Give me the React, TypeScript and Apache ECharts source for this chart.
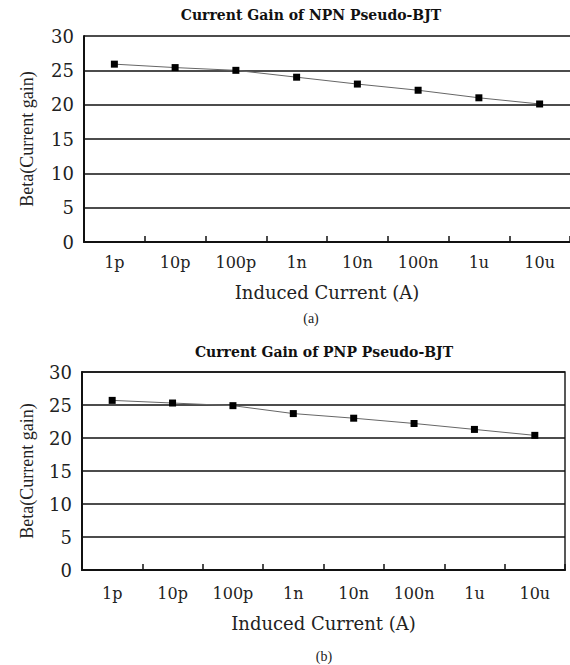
import React, { useEffect, useRef } from "react";
import * as echarts from "echarts";

const categories = ["1p", "10p", "100p", "1n", "10n", "100n", "1u", "10u"];
const npnBeta = [25.9, 25.4, 25.0, 24.0, 23.0, 22.1, 21.0, 20.1];
const pnpBeta = [25.7, 25.3, 24.9, 23.7, 23.0, 22.2, 21.3, 20.4];
const yTicks = { min: 0, max: 30, interval: 5 };
const titles = ["Current Gain of NPN Pseudo-BJT", "Current Gain of PNP Pseudo-BJT"];
const captions = ["(a)", "(b)"];
const xName = "Induced Current (A)";
const yName = "Beta(Current gain)";

const SERIF = "'DejaVu Serif', serif";
const TIMES = "'Liberation Serif', serif";

export default function App() {
  const ref = useRef<HTMLDivElement>(null);
  useEffect(() => {
    if (!ref.current) return;
    const chart = echarts.init(ref.current, null, { renderer: "svg" });
    const grids = [
      { left: 84, top: 36, width: 488, height: 206 },
      { left: 82, top: 372, width: 483, height: 198 },
    ];
    const xCfg = [
      { labelMargin: 12, nameGap: 50 },
      { labelMargin: 15, nameGap: 53 },
    ];
    const yCfg = [{ nameGap: 57 }, { nameGap: 55 }];
    const option: any = {
      animation: false,
      backgroundColor: "#fff",
      grid: grids.map((g, i) => ({
        ...g,
        show: i === 1,
        borderColor: "#222",
        borderWidth: 1.5,
        backgroundColor: "transparent",
      })),
      xAxis: grids.map((_, i) => ({
        type: "category",
        gridIndex: i,
        data: categories,
        boundaryGap: true,
        name: xName,
        nameLocation: "middle",
        nameGap: xCfg[i].nameGap,
        nameTextStyle: { fontFamily: SERIF, fontSize: 18, color: "#222", verticalAlign: "middle" },
        axisLine: { show: true, lineStyle: { color: "#111", width: 2 } },
        axisTick: { show: true, inside: true, length: 6, lineStyle: { color: "#111", width: 1.5 } },
        axisLabel: { fontFamily: SERIF, fontSize: 16, color: "#222", margin: xCfg[i].labelMargin },
        splitLine: { show: false },
      })),
      yAxis: grids.map((_, i) => ({
        type: "value",
        gridIndex: i,
        min: yTicks.min,
        max: yTicks.max,
        interval: yTicks.interval,
        name: yName,
        nameLocation: "middle",
        nameRotate: 90,
        nameGap: yCfg[i].nameGap,
        nameTextStyle: { fontFamily: TIMES, fontSize: 18, color: "#222", verticalAlign: "middle" },
        axisLine: { show: true, lineStyle: { color: "#111", width: 2 } },
        axisTick: { show: false },
        axisLabel: { fontFamily: SERIF, fontSize: 18, color: "#222", margin: 10 },
        splitLine: { show: true, lineStyle: { color: "#111", width: 1.5 } },
      })),
      series: [npnBeta, pnpBeta].map((d, i) => ({
        type: "line",
        xAxisIndex: i,
        yAxisIndex: i,
        data: d,
        symbol: "rect",
        symbolSize: 7,
        itemStyle: { color: "#000" },
        lineStyle: { color: "#666", width: 1 },
      })),
      graphic: [
        {
          type: "text",
          x: 311,
          y: 15,
          style: {
            text: titles[0],
            fontFamily: SERIF,
            fontWeight: "bold",
            fontSize: 14,
            fill: "#111",
            textAlign: "center",
            textVerticalAlign: "middle",
          },
        },
        {
          type: "text",
          x: 324,
          y: 352,
          style: {
            text: titles[1],
            fontFamily: SERIF,
            fontWeight: "bold",
            fontSize: 14,
            fill: "#111",
            textAlign: "center",
            textVerticalAlign: "middle",
          },
        },
        {
          type: "text",
          x: 311,
          y: 318,
          style: {
            text: captions[0],
            fontFamily: TIMES,
            fontSize: 14,
            fill: "#222",
            textAlign: "center",
            textVerticalAlign: "middle",
          },
        },
        {
          type: "text",
          x: 324,
          y: 656,
          style: {
            text: captions[1],
            fontFamily: TIMES,
            fontSize: 14,
            fill: "#222",
            textAlign: "center",
            textVerticalAlign: "middle",
          },
        },
      ],
    };
    chart.setOption(option);
    return () => chart.dispose();
  }, []);
  return (
    <div
      ref={ref}
      style={{ position: "absolute", left: 0, top: 0, width: 570, height: 665, background: "#fff" }}
    />
  );
}
